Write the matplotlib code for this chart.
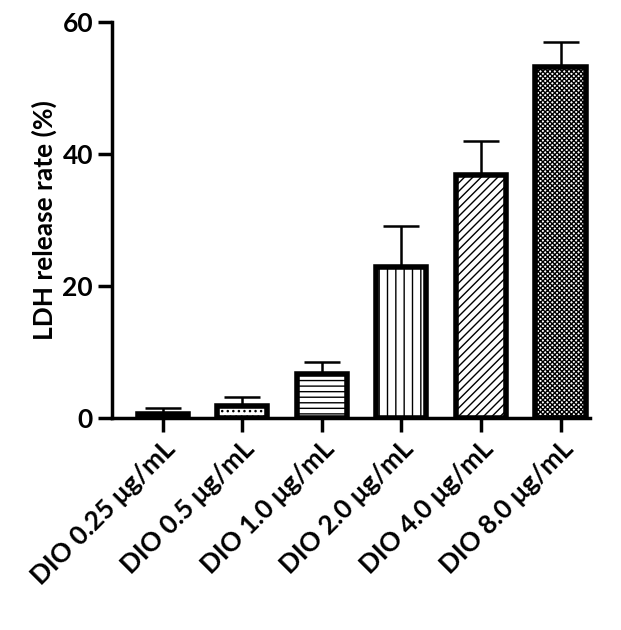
import matplotlib
matplotlib.use("Agg")
import matplotlib.pyplot as plt

categories = ["DIO 0.25 μg/mL", "DIO 0.5 μg/mL", "DIO 1.0 μg/mL",
              "DIO 2.0 μg/mL", "DIO 4.0 μg/mL", "DIO 8.0 μg/mL"]
values = [0.6, 1.7, 6.7, 22.9, 36.8, 53.2]
errors = [0.9, 1.5, 1.7, 6.1, 5.1, 3.8]
hatches = ["", "...", "---", "||", "////", "xxxxxxx"]

plt.rcParams['font.family'] = ['Lato', 'DejaVu Sans']
plt.rcParams['hatch.linewidth'] = 1.0
fig = plt.figure(figsize=(6.21, 6.30), dpi=100)
ax = fig.add_axes([0.18, 0.337, 0.77, 0.628])
x = range(len(categories))
ax.errorbar(x, values, yerr=[[0]*6, errors], fmt='none', ecolor='black',
            elinewidth=1.8, capsize=13, capthick=1.8, zorder=1)
for i, (v, h) in enumerate(zip(values, hatches)):
    ax.bar(i, v, width=0.63, facecolor='white', edgecolor='black',
           linewidth=4, hatch=h, zorder=2)
ax.set_xlim(-0.64, 5.37)
ax.set_ylim(0, 60)
ax.set_yticks([0, 20, 40, 60])
ax.set_xticks(list(x))
ax.set_xticklabels(categories, rotation=45, ha='right', rotation_mode='anchor',
                   fontsize=19, fontweight='bold')
for lab in ax.get_yticklabels():
    lab.set_fontsize(19); lab.set_fontweight('bold')
ax.set_ylabel("LDH release rate (%)", fontsize=19, fontweight='bold')
for s in ['top', 'right']:
    ax.spines[s].set_visible(False)
for s in ['left', 'bottom']:
    ax.spines[s].set_linewidth(2.5)
ax.tick_params(width=2.5, length=10)
fig.savefig("out.png", dpi=100)
